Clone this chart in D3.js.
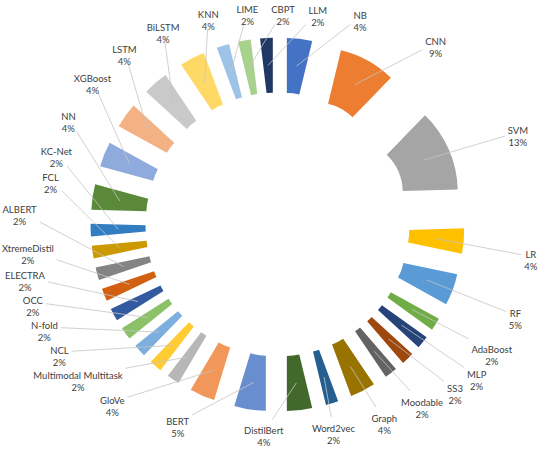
<!DOCTYPE html>
<html lang="en">
<head>
  <meta charset="UTF-8" />
  <title>Exploded doughnut</title>
  <script src="https://d3js.org/d3.v7.min.js"></script>
  <style>
    body { margin: 0; overflow: hidden; background: #fff; }
    .label { font-family: Lato, "Liberation Sans", sans-serif; font-size: 9.5px; fill: #404040; }
    .leader { fill: none; stroke: #c4c4c4; stroke-width: 0.8px; }
  </style>
</head>
<body>
  <svg width="550" height="449"></svg>
  <script>
    // data, clockwise from 12 o'clock
    const names = ["NB", "CNN", "SVM", "LR", "RF", "AdaBoost", "MLP", "SS3", "Moodable", "Graph",
      "Word2vec", "DistilBert", "BERT", "GloVe", "Multimodal Multitask", "NCL", "N-fold", "OCC",
      "ELECTRA", "XtremeDistil", "ALBERT", "FCL", "KC-Net", "NN", "XGBoost", "LSTM", "BiLSTM",
      "KNN", "LIME", "CBPT", "LLM"];
    const values = [4, 9, 13, 4, 5, 2, 2, 2, 2, 4,
      2, 4, 5, 4, 2, 2, 2, 2,
      2, 2, 2, 2, 2, 4, 4, 4, 4,
      4, 2, 2, 2];
    const colors = ["#4472C4", "#ED7D31", "#A5A5A5", "#FFC000", "#5B9BD5", "#70AD47",
      "#264478", "#9E480E", "#636363", "#997300", "#255E91", "#43682B",
      "#698ED0", "#F1975A", "#B7B7B7", "#FFCD33", "#7CAFDD", "#8CC168",
      "#335AA1", "#D26012", "#848484", "#CC9A00", "#327DC2", "#5A8A39",
      "#8FAADC", "#F4B183", "#C9C9C9", "#FFD966", "#9DC3E6", "#A9D18E", "#203864"];

    const width = 550, height = 449;
    const cx = 277.5, cy = 224.5;
    const rInner = 53, rOuter = 108, explode = 79;
    const labelRxUpperLeft = 228, labelRxLowerLeft = 258, labelRxRight = 255;
    const labelRyTop = 210, labelRyBottom = 212;

    const svg = d3.select("svg");
    const g = svg.append("g").attr("transform", `translate(${cx},${cy})`);

    const rows = names.map((n, i) => ({ name: n, value: values[i], color: colors[i] }));
    const pie = d3.pie().sort(null).value(d => d.value);
    const arcs = pie(rows);
    const arc = d3.arc().innerRadius(rInner).outerRadius(rOuter);

    // each slice pushed out along its bisector
    const offset = d => {
      const m = (d.startAngle + d.endAngle) / 2;
      return [explode * Math.sin(m), -explode * Math.cos(m)];
    };

    g.selectAll("path.slice")
      .data(arcs)
      .enter().append("path")
        .attr("class", "slice")
        .attr("fill", d => d.data.color)
        .attr("transform", d => `translate(${offset(d)})`)
        .attr("d", arc);

    // label placement: rotated a bit clockwise, on a squarish ellipse
    const rad = Math.PI / 180;
    const leftRx = d3.scaleLinear().domain([0.05, 0.15]).range([labelRxLowerLeft, labelRxUpperLeft]).clamp(true);
    function labelPos(d) {
      const m = (d.startAngle + d.endAngle) / 2;
      const a = m + (9.5 - 7.5 * Math.sin(m)) * rad;
      const s = Math.sin(a), c = Math.cos(a);
      const p = 0.85;
      const rx = s > 0 ? labelRxRight : leftRx(c);
      const ry = c > 0 ? labelRyTop : labelRyBottom;
      return [Math.sign(s) * Math.pow(Math.abs(s), p) * rx,
              -Math.sign(c) * Math.pow(Math.abs(c), p) * ry];
    }

    const lineG = g.append("g");
    const labelG = g.append("g");

    // measure labels first
    const labels = arcs.map(d => {
      const [x, y] = labelPos(d);
      const t = labelG.append("text").attr("class", "label").attr("text-anchor", "middle");
      const t1 = t.append("tspan").text(d.data.name);
      const t2 = t.append("tspan").text(d.data.value + "%");
      const w = Math.max(t1.node().getComputedTextLength(), t2.node().getComputedTextLength());
      return { d, t, t1, t2, x, y, w: w + 4, h: 25 };
    });

    // push overlapping labels apart
    for (let it = 0; it < 300; it++) {
      for (let i = 0; i < labels.length; i++) {
        for (let j = i + 1; j < labels.length; j++) {
          const a = labels[i], b = labels[j];
          const ox = (a.w + b.w) / 2 - Math.abs(a.x - b.x);
          const oy = (a.h + b.h) / 2 - Math.abs(a.y - b.y);
          if (ox <= 0 || oy <= 0) continue;
          if (oy < ox) {
            const s = (a.y < b.y ? -1 : 1) * oy * 0.25;
            a.y += s; b.y -= s;
          } else {
            const s = (a.x < b.x ? -1 : 1) * ox * 0.25;
            a.x += s; b.x -= s;
          }
        }
      }
      labels.forEach(l => {
        l.x = Math.max(-cx + l.w / 2, Math.min(width - cx - l.w / 2, l.x));
        l.y = Math.max(-cy + 14, Math.min(height - cy - 12, l.y));
      });
    }

    labels.forEach(l => {
      l.t.attr("x", l.x).attr("y", l.y - 2);
      l.t1.attr("x", l.x).attr("dy", 0);
      l.t2.attr("x", l.x).attr("dy", 12);
      const c = arc.centroid(l.d), o = offset(l.d);
      const px = c[0] + o[0], py = c[1] + o[1];
      const bx = l.x, by = l.y - 4;
      const dx = px - bx, dy = py - by;
      const k = Math.min((l.w / 2 + 1) / Math.abs(dx || 1e-6), 13 / Math.abs(dy || 1e-6), 1);
      lineG.append("line")
        .attr("class", "leader")
        .attr("x1", px).attr("y1", py)
        .attr("x2", bx + dx * k).attr("y2", by + dy * k);
    });
  </script>
</body>
</html>
